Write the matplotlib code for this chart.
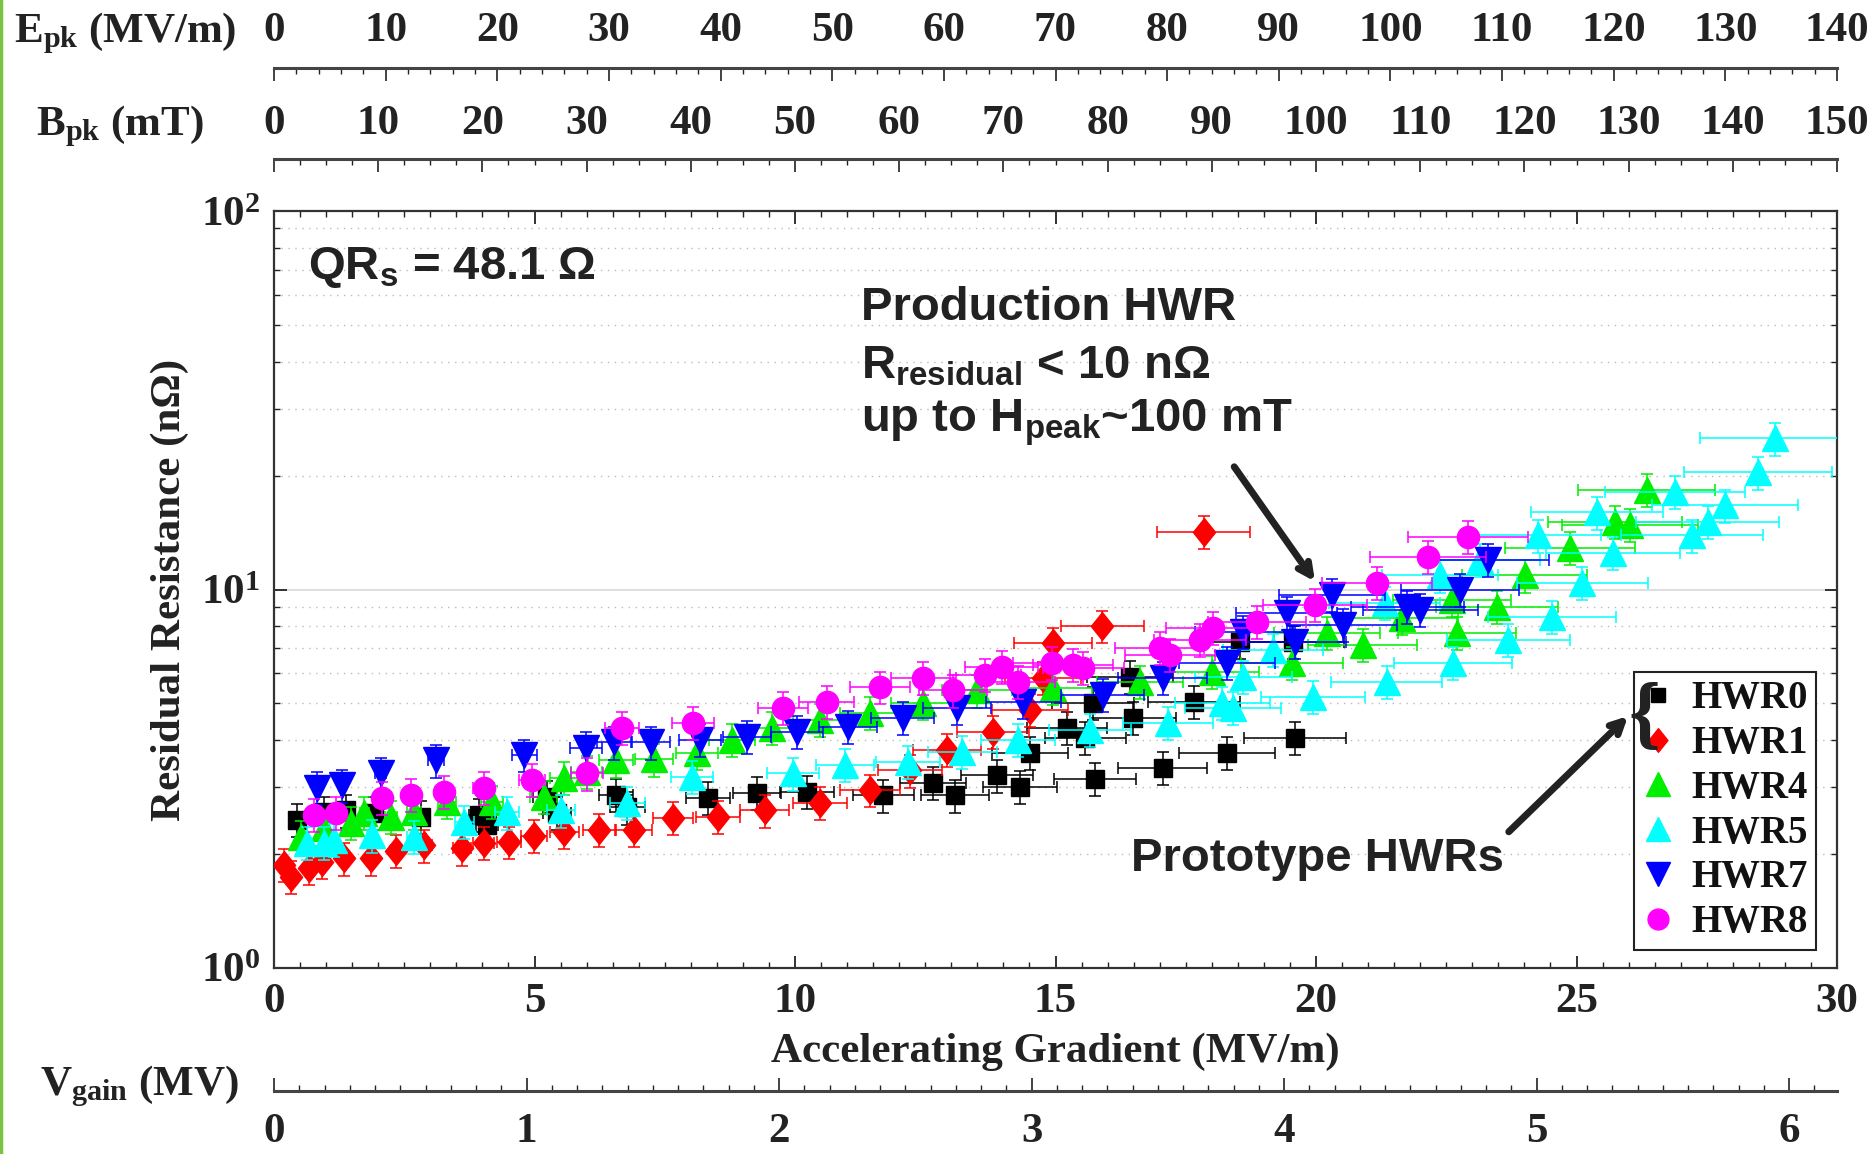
import numpy as np
import matplotlib
matplotlib.use('Agg')
import matplotlib.pyplot as plt
from matplotlib.ticker import MultipleLocator, LogLocator, NullFormatter
from matplotlib.lines import Line2D
from matplotlib.path import Path

plt.rcParams['font.family'] = 'Liberation Serif'
plt.rcParams['font.weight'] = 'bold'
plt.rcParams['axes.labelweight'] = 'bold'
plt.rcParams['mathtext.default'] = 'regular'

# ---- data: (accelerating gradient MV/m, residual resistance nOhm)
hwr0_x = [0.44, 0.96, 1.38, 1.92, 2.82, 3.93, 4.09, 5.24, 5.43, 6.56, 6.78, 8.33, 9.27, 10.23,
          11.69, 12.65, 13.07, 13.88, 14.32, 14.51, 15.22, 15.57, 15.72, 15.76, 16.43, 16.49,
          17.06, 17.66, 18.29, 18.54, 19.56, 19.6]
hwr0_y = [2.46, 2.58, 2.61, 2.57, 2.51, 2.54, 2.39, 2.83, 2.57, 2.87, 2.66, 2.81, 2.90, 2.92,
          2.86, 3.08, 2.86, 3.23, 3.01, 3.70, 4.31, 4.05, 5.01, 3.16, 5.87, 4.58,
          3.38, 5.04, 3.70, 7.26, 7.26, 4.05]

hwr1_x = [0.19, 0.33, 0.67, 0.92, 1.34, 1.86, 2.34, 2.88, 3.61, 4.03, 4.51, 4.99, 5.57, 6.24,
          6.91, 7.66, 8.52, 9.42, 10.48, 11.44, 12.21, 12.92, 13.80, 14.51, 14.76, 14.95,
          15.9, 17.85]
hwr1_y = [1.87, 1.74, 1.84, 1.91, 1.95, 1.95, 2.04, 2.11, 2.07, 2.14, 2.15, 2.23, 2.29, 2.32,
          2.32, 2.49, 2.51, 2.61, 2.73, 2.95, 3.33, 3.77, 4.20, 4.80, 5.84, 7.2,
          8.0, 14.2]

hwr4_x = [0.52, 0.96, 1.48, 1.73, 2.25, 2.69, 3.32, 4.18, 5.18, 5.57, 6.0, 6.56, 7.3, 8.12,
          8.79, 9.56, 10.48, 11.44, 12.46, 13.49, 14.95, 16.62, 18.0, 19.54, 20.21, 20.9,
          21.65, 22.7, 22.61, 23.47, 24.01, 24.88, 25.74, 26.03, 26.35]
hwr4_y = [2.22, 2.34, 2.42, 2.57, 2.51, 2.58, 2.75, 2.75, 2.83, 3.18, 3.30, 3.54, 3.56, 3.70,
          4.0, 4.31, 4.52, 4.72, 5.01, 5.42, 5.49, 5.70, 6.05, 6.40, 7.67, 7.13,
          8.41, 7.67, 9.38, 8.99, 10.9, 12.9, 15.1, 14.8, 18.3]

hwr5_x = [0.63, 0.96, 1.15, 1.88, 2.69, 3.65, 4.47, 5.51, 6.78, 8.02, 9.96, 10.96, 12.17,
          13.21, 14.28, 15.66, 17.16, 18.2, 18.41, 18.6, 19.18, 19.94, 21.32, 21.36, 22.38,
          22.63, 23.15, 23.69, 24.26, 24.53, 25.11, 25.39, 25.7, 26.89, 27.22, 27.52, 27.85,
          28.48, 28.81]
hwr5_y = [2.14, 2.14, 2.18, 2.24, 2.22, 2.43, 2.58, 2.61, 2.73, 3.20, 3.27, 3.44, 3.50,
          3.72, 4.0, 4.25, 4.44, 5.01, 4.86, 5.87, 6.92, 5.20, 9.21, 5.70, 10.9,
          6.40, 12.0, 7.35, 13.9, 8.46, 10.4, 16.0, 12.5, 18.1, 13.9, 15.1, 16.7,
          20.4, 25.1]

hwr7_x = [0.83, 1.31, 2.05, 3.11, 4.80, 5.99, 6.53, 7.24, 8.18, 9.08, 10.04, 11.02, 12.07,
          13.11, 14.38, 15.91, 17.06, 18.29, 18.6, 19.44, 19.6, 20.31, 20.52, 21.75, 22.0,
          22.76, 23.3]
hwr7_y = [2.99, 3.04, 3.27, 3.54, 3.65, 3.81, 3.95, 3.95, 4.0, 4.08, 4.20, 4.34, 4.58,
          4.86, 5.04, 5.26, 5.84, 6.40, 7.72, 8.67, 7.26, 9.67, 8.06, 8.99, 8.83,
          9.97, 12.0]

hwr8_x = [0.77, 1.19, 2.07, 2.63, 3.26, 4.03, 4.95, 6.01, 6.68, 8.04, 9.77, 10.61, 11.63,
          12.46, 13.03, 13.65, 13.97, 14.28, 14.93, 15.34, 15.53, 17.0, 17.2, 17.77, 18.02,
          18.87, 19.98, 21.17, 22.15, 22.92]
hwr8_y = [2.54, 2.57, 2.81, 2.87, 2.92, 2.99, 3.14, 3.27, 4.31, 4.44, 4.86, 5.04, 5.52,
          5.84, 5.42, 5.94, 6.24, 5.70, 6.40, 6.32, 6.20, 7.0, 6.71, 7.35, 7.91,
          8.20, 9.10, 10.4, 12.2, 13.8]

labels = ['HWR0', 'HWR1', 'HWR4', 'HWR5', 'HWR7', 'HWR8']
# relative measurement uncertainty (gradient, resistance)
err_x_rel = 0.05
err_y_rel = 0.10

# extra axes ranges for the full 0-30 MV/m gradient span
epk_max = 140
bpk_max = 150
vgain_max = 6.19

# MATLAB-like diamond, a bit taller than wide
diamond = Path([(0, 1), (0.8, 0), (0, -1), (-0.8, 0), (0, 1)],
               [Path.MOVETO, Path.LINETO, Path.LINETO, Path.LINETO, Path.CLOSEPOLY])

series = [(hwr0_x, hwr0_y), (hwr1_x, hwr1_y), (hwr4_x, hwr4_y),
          (hwr5_x, hwr5_y), (hwr7_x, hwr7_y), (hwr8_x, hwr8_y)]
styles = [('s', '#000000', 13.5, 10.5), (diamond, '#ff0000', 20, 17), ('^', '#00ee00', 18.5, 17),
          ('^', '#00ffff', 18.5, 17), ('v', '#0000ff', 18.5, 17), ('o', '#ff00ff', 16, 15)]

fig = plt.figure(figsize=(18.7, 11.54), dpi=100)
L, W = 274 / 1870, 1563 / 1870
ax = fig.add_axes([L, 186 / 1154, W, 757 / 1154])

for (xs, ys), (m, c, ms, _), lab in zip(series, styles, labels):
    xs = np.array(xs)
    ys = np.array(ys)
    ax.errorbar(xs, ys, xerr=err_x_rel * xs, yerr=err_y_rel * ys, fmt='none',
                ecolor=c, elinewidth=1.3, capsize=4, capthick=1.3, alpha=0.85, zorder=3)
    ax.plot(xs, ys, ls='none', marker=m, color=c, ms=ms, mec=c, zorder=3)

ax.set_yscale('log')
ax.set_xlim(0, 30)
ax.set_ylim(1, 100)

ax.xaxis.set_major_locator(MultipleLocator(5))
ax.xaxis.set_minor_locator(MultipleLocator(0.5))
ax.yaxis.set_minor_locator(LogLocator(base=10, subs=np.arange(2, 10)))
ax.yaxis.set_minor_formatter(NullFormatter())
ax.tick_params(which='both', direction='in', top=True, right=True, labelsize=31, colors='#222222')
ax.tick_params(axis='x', which='major', length=9, width=1.3, pad=11)
ax.tick_params(axis='x', which='minor', length=4.5, width=1.0)
ax.tick_params(axis='y', which='major', length=9, width=1.3, pad=10)
ax.tick_params(axis='y', which='minor', length=4.5, width=1.0)
for s in ax.spines.values():
    s.set_linewidth(1.6)
    s.set_color('#333333')

ax.grid(True, which='major', axis='y', color='#d8d8d8', lw=1.2, ls='-')
ax.grid(True, which='minor', axis='y', color='#bbbbbb', lw=1.0, ls=(0, (1, 4)))
ax.set_axisbelow(True)

ax.set_xlabel('Accelerating Gradient (MV/m)', fontsize=31, color='#222222')
ax.xaxis.set_label_coords(0.5, -0.11)
ax.xaxis.label.set_va('center')
ax.set_ylabel('Residual Resistance (n\u03a9)', fontsize=31, color='#222222')
ax.yaxis.set_label_coords(-0.067, 0.5)
ax.yaxis.label.set_va('center')

# legend with marker-only handles
handles = [Line2D([], [], ls='none', marker=m, color=c, ms=lms) for m, c, ms, lms in styles]
leg = ax.legend(handles, labels, loc='lower right', bbox_to_anchor=(0.9866, 0.024),
                fontsize=28, frameon=True, fancybox=False, framealpha=1, edgecolor='#222222',
                borderpad=0.22, labelspacing=0.2, handlelength=0.8, handletextpad=0.45,
                borderaxespad=0)
leg.get_frame().set_linewidth(1.5)
for t in leg.get_texts():
    t.set_color('#111111')
ax.text(0.877, 0.331, '{', transform=ax.transAxes, fontsize=58, fontweight='bold',
        ha='center', va='center', color='#222222', zorder=10)

# annotations
sans = 'Liberation Sans'
ax.text(0.65, 70.7, 'QR$_\\mathregular{s}$ = 48.1 \u03a9', fontsize=34, family=sans,
        ha='left', va='center', color='#222222')
ax.text(11.27, 55.4, 'Production HWR', fontsize=34, family=sans, ha='left', va='center',
        color='#222222')
ax.text(11.27, 38.9, 'R$_\\mathregular{residual}$ < 10 n\u03a9', fontsize=34, family=sans,
        ha='left', va='center', color='#222222')
ax.text(11.27, 27.5, 'up to H$_\\mathregular{peak}$~100 mT', fontsize=34, family=sans,
        ha='left', va='center', color='#222222')
ax.text(16.45, 1.94, 'Prototype HWRs', fontsize=34, family=sans, ha='left', va='center',
        color='#222222')
ax.annotate('', xy=(19.98, 10.5), xytext=(18.43, 21.1),
            arrowprops=dict(arrowstyle='->,head_length=0.9,head_width=0.45', lw=5,
                            color='#222222', shrinkA=0, shrinkB=0))
ax.annotate('', xy=(25.99, 4.63), xytext=(23.7, 2.29),
            arrowprops=dict(arrowstyle='->,head_length=0.9,head_width=0.45', lw=5,
                            color='#222222', shrinkA=0, shrinkB=0))


def extra_axis(y_line, vmax, major, minor, at_top, pad):
    h = 0.01
    if at_top:
        a = fig.add_axes([L, y_line - h, W, h])
    else:
        a = fig.add_axes([L, y_line, W, h])
    a.set_xlim(0, vmax)
    a.set_yticks([])
    a.patch.set_visible(False)
    for k, s in a.spines.items():
        s.set_visible((k == 'top') if at_top else (k == 'bottom'))
        s.set_linewidth(2.2)
        s.set_color('#444444')
    a.xaxis.set_major_locator(MultipleLocator(major))
    a.xaxis.set_minor_locator(MultipleLocator(minor))
    if at_top:
        a.xaxis.tick_top()
    a.tick_params(axis='x', which='both', direction='in', labelsize=31, colors='#222222',
                  pad=pad)
    a.tick_params(axis='x', which='major', length=9.5, width=1.2)
    a.tick_params(axis='x', which='minor', length=4.5, width=1.0)
    return a


extra_axis(1 - 68 / 1154, epk_max, 10, 2, True, 13)
extra_axis(1 - 159 / 1154, bpk_max, 10, 2.5, True, 11.5)
extra_axis(1 - 1091 / 1154, vgain_max, 1, 0.1, False, 16)

fig.text(14 / 1870, 1 - 42 / 1154, 'E$_\\mathregular{pk}$ (MV/m)', fontsize=31, ha='left',
         va='baseline', color='#222222')
fig.text(36 / 1870, 1 - 135 / 1154, 'B$_\\mathregular{pk}$ (mT)', fontsize=31, ha='left',
         va='baseline', color='#222222')
fig.text(40 / 1870, 1 - 1095 / 1154, 'V$_\\mathregular{gain}$ (MV)', fontsize=31, ha='left',
         va='baseline', color='#222222')

fig.add_artist(Line2D([0.0008, 0.0008], [0, 1], transform=fig.transFigure,
                      color='#7cc242', lw=2.5))

fig.savefig('out.png', dpi=100)
